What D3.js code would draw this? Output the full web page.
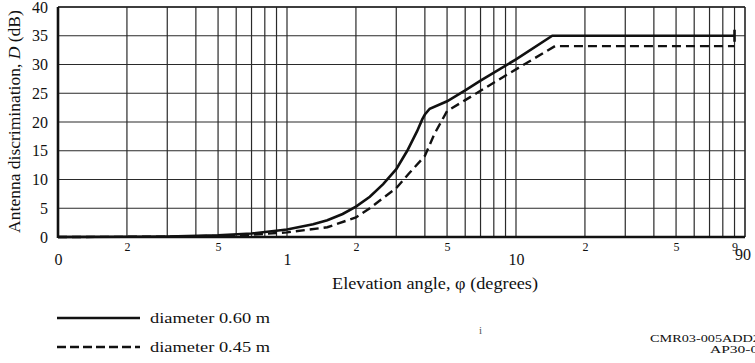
<!DOCTYPE html>
<html>
<head>
<meta charset="utf-8">
<script src="https://cdn.jsdelivr.net/npm/d3@7"></script>
<style>
  body { margin: 0; background: #fff; }
  svg { display: block; }
  svg text { font-family: "Liberation Serif", "Times New Roman", "DejaVu Serif", serif; }
</style>
</head>
<body>
<svg id="chart" width="755" height="363"></svg>
<script>
// elevation angle (degrees) and discrimination D (dB)
const angle60 = [0.1, 0.2, 0.3, 0.5, 0.7, 1.0, 1.3, 1.5, 1.75, 2.0, 2.3, 2.63, 3.0, 3.35, 3.7, 3.9, 4.0, 4.2, 5.0, 6.0, 7.0, 10.0, 14.4, 90];
const disc60  = [0, 0.05, 0.1, 0.3, 0.6, 1.3, 2.2, 2.9, 4.0, 5.3, 7.0, 9.2, 11.8, 15.0, 18.4, 20.5, 21.3, 22.3, 23.6, 25.5, 27.2, 30.9, 35.0, 35.0];
const angle45 = [0.1, 0.3, 0.5, 0.7, 1.0, 1.5, 2.0, 2.3, 2.63, 3.0, 3.4, 4.0, 4.4, 5.0, 6.0, 9.2, 14.8, 90];
const disc45  = [0, 0.05, 0.2, 0.4, 0.8, 1.7, 3.4, 5.0, 6.8, 8.5, 11.0, 14.1, 17.9, 21.9, 23.8, 28.3, 33.2, 33.2];

const yTicks = [0, 5, 10, 15, 20, 25, 30, 35, 40];
const xMinorLabels = [0.2, 0.5, 2, 5, 20, 50, 90];
const xMajorLabels = [0.1, 1, 10, 90];
const xGrid = [];
[0.1, 1, 10].forEach(d => { for (let k = 1; k <= 9; k++) xGrid.push(d * k); });

const svg = d3.select("#chart");
const x = d3.scaleLog().domain([0.1, 100]).range([58, 745]);
const y = d3.scaleLinear().domain([0, 40]).range([237, 7]);

// grid
svg.append("g").selectAll("line").data(xGrid.filter(d => d > 0.1)).enter().append("line")
    .attr("x1", d => x(d)).attr("x2", d => x(d))
    .attr("y1", y(0)).attr("y2", y(40))
    .attr("stroke", "#2a2a2a").attr("stroke-width", 1.2);
svg.append("g").selectAll("line").data(yTicks.filter(d => d > 0)).enter().append("line")
    .attr("x1", x(0.1)).attr("x2", x(100))
    .attr("y1", d => y(d)).attr("y2", d => y(d))
    .attr("stroke", "#2a2a2a").attr("stroke-width", 1.2);

// frame
svg.append("line").attr("x1", x(0.1)).attr("x2", x(100)).attr("y1", y(40)).attr("y2", y(40))
    .attr("stroke", "#222").attr("stroke-width", 1.6);
svg.append("line").attr("x1", x(100)).attr("x2", x(100)).attr("y1", y(0)).attr("y2", y(40))
    .attr("stroke", "#222").attr("stroke-width", 1.6);
svg.append("line").attr("x1", x(0.1)).attr("x2", x(0.1)).attr("y1", y(0) + 1).attr("y2", y(40))
    .attr("stroke", "#111").attr("stroke-width", 2.6);
svg.append("line").attr("x1", x(0.1)).attr("x2", x(100)).attr("y1", y(0)).attr("y2", y(0))
    .attr("stroke", "#111").attr("stroke-width", 2.6);

// axes
const yAxis = svg.append("g").attr("transform", `translate(${x(0.1)},0)`)
    .call(d3.axisLeft(y).tickValues(yTicks).tickSize(0).tickPadding(10));
yAxis.attr("font-family", null);
yAxis.select(".domain").remove();
yAxis.selectAll("text").attr("font-size", 16).attr("fill", "#111");

const xMinor = svg.append("g").attr("transform", `translate(0,${y(0) + 3})`)
    .call(d3.axisBottom(x).tickValues(xMinorLabels).tickSize(0).tickPadding(2)
        .tickFormat(d => String(d).replace("0.", "").charAt(0)));
xMinor.attr("font-family", null);
xMinor.select(".domain").remove();
xMinor.selectAll("text").attr("font-size", 12).attr("fill", "#111");

const xMajor = svg.append("g").attr("transform", `translate(0,${y(0) + 15})`)
    .call(d3.axisBottom(x).tickValues(xMajorLabels).tickSize(0).tickPadding(2)
        .tickFormat(d => d < 1 ? "0" : String(d)));
xMajor.attr("font-family", null);
xMajor.select(".domain").remove();
xMajor.selectAll("text").attr("font-size", 16).attr("fill", "#111")
    .attr("dx", d => d === 90 ? 8 : 0).attr("dy", d => d === 90 ? "0.4em" : "0.71em");

// curves
const line = d3.line().x(d => x(d[0])).y(d => y(d[1]));
svg.append("path").datum(angle60.map((a, i) => [a, disc60[i]]))
    .attr("d", line).attr("fill", "none").attr("stroke", "#111").attr("stroke-width", 2.6);
svg.append("path").datum(angle45.map((a, i) => [a, disc45[i]]))
    .attr("d", line).attr("fill", "none").attr("stroke", "#111").attr("stroke-width", 2.4)
    .attr("stroke-dasharray", "9,5");
svg.append("line")
    .attr("x1", x(90)).attr("x2", x(90))
    .attr("y1", y(disc60[disc60.length - 1]) - 6).attr("y2", y(disc60[disc60.length - 1]) + 6)
    .attr("stroke", "#111").attr("stroke-width", 2.6);

// axis titles (the scanned lettering is wider than the font, so stretch it)
const yTitle = svg.append("text")
    .attr("text-anchor", "middle").attr("font-size", 16).attr("fill", "#111");
yTitle.append("tspan").text("Antenna discrimination, ");
yTitle.append("tspan").attr("font-style", "italic").text("D");
yTitle.append("tspan").text(" (dB)");
const kY = 223 / yTitle.node().getComputedTextLength();
yTitle.attr("transform", `translate(20,121.5) rotate(-90) scale(${kY},1)`);

svg.append("text").attr("x", 435).attr("y", 289)
    .attr("text-anchor", "middle").attr("font-size", 16).attr("fill", "#111")
    .attr("textLength", 206).attr("lengthAdjust", "spacingAndGlyphs")
    .text("Elevation angle, \u03c6 (degrees)");

// legend
const legend = [
  { label: "diameter 0.60 m", dash: null, yPos: 318 },
  { label: "diameter 0.45 m", dash: "9,4", yPos: 347 }
];
legend.forEach(l => {
  svg.append("line").attr("x1", 57).attr("x2", 140).attr("y1", l.yPos).attr("y2", l.yPos)
      .attr("stroke", "#111").attr("stroke-width", 2.4)
      .attr("stroke-dasharray", l.dash);
  svg.append("text").attr("x", 150).attr("y", l.yPos + 5)
      .attr("font-size", 15).attr("fill", "#111")
      .attr("textLength", 120).attr("lengthAdjust", "spacingAndGlyphs")
      .text(l.label);
});

svg.append("text").attr("x", 479).attr("y", 334).attr("font-size", 11).attr("fill", "#555").text("i");
svg.append("text").attr("x", 650).attr("y", 342).attr("font-size", 11).attr("fill", "#111")
    .attr("textLength", 110).attr("lengthAdjust", "spacingAndGlyphs").text("CMR03-005ADD2");
svg.append("text").attr("x", 710).attr("y", 353).attr("font-size", 11).attr("fill", "#111")
    .attr("textLength", 56).attr("lengthAdjust", "spacingAndGlyphs").text("AP30-02");
</script>
</body>
</html>
